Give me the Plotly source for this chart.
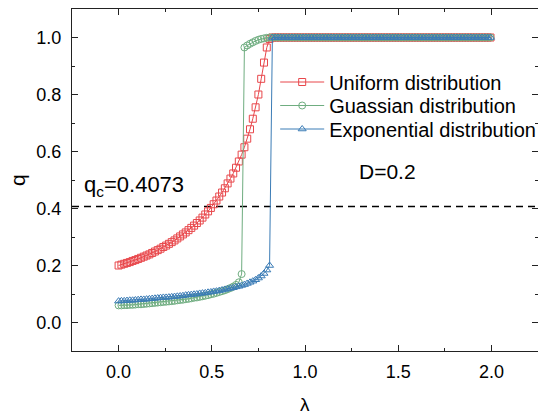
import plotly.graph_objects as go

# lambda grid (step 0.015)
lam = [0.0, 0.015, 0.03, 0.045, 0.06, 0.075, 0.09, 0.105, 0.12, 0.135,
       0.15, 0.165, 0.18, 0.195, 0.21, 0.225, 0.24, 0.255, 0.27, 0.285,
       0.3, 0.315, 0.33, 0.345, 0.36, 0.375, 0.39, 0.405, 0.42, 0.435,
       0.45, 0.465, 0.48, 0.495, 0.51, 0.525, 0.54, 0.555, 0.57, 0.585,
       0.6, 0.615, 0.63, 0.645, 0.66, 0.675, 0.69, 0.705, 0.72, 0.735,
       0.75, 0.765, 0.78, 0.795, 0.81, 0.825, 0.84, 0.855, 0.87, 0.885,
       0.9, 0.915, 0.93, 0.945, 0.96, 0.975, 0.99, 1.005, 1.02, 1.035,
       1.05, 1.065, 1.08, 1.095, 1.11, 1.125, 1.14, 1.155, 1.17, 1.185,
       1.2, 1.215, 1.23, 1.245, 1.26, 1.275, 1.29, 1.305, 1.32, 1.335,
       1.35, 1.365, 1.38, 1.395, 1.41, 1.425, 1.44, 1.455, 1.47, 1.485,
       1.5, 1.515, 1.53, 1.545, 1.56, 1.575, 1.59, 1.605, 1.62, 1.635,
       1.65, 1.665, 1.68, 1.695, 1.71, 1.725, 1.74, 1.755, 1.77, 1.785,
       1.8, 1.815, 1.83, 1.845, 1.86, 1.875, 1.89, 1.905, 1.92, 1.935,
       1.95, 1.965, 1.98, 1.995]

q_uniform = [0.200, 0.203, 0.206, 0.209, 0.212, 0.216, 0.219, 0.223, 0.227, 0.231,
             0.235, 0.239, 0.244, 0.249, 0.254, 0.259, 0.265, 0.270, 0.276, 0.282,
             0.288, 0.295, 0.302, 0.309, 0.316, 0.324, 0.332, 0.340, 0.349, 0.358,
             0.368, 0.379, 0.390, 0.402, 0.415, 0.428, 0.442, 0.456, 0.471, 0.488,
             0.505, 0.523, 0.543, 0.565, 0.589, 0.615, 0.645, 0.678, 0.715, 0.755,
             0.800, 0.855, 0.912, 0.965, 0.995, 1.0, 1.0, 1.0, 1.0, 1.0,
             1.0, 1.0, 1.0, 1.0, 1.0, 1.0, 1.0, 1.0, 1.0, 1.0,
             1.0, 1.0, 1.0, 1.0, 1.0, 1.0, 1.0, 1.0, 1.0, 1.0,
             1.0, 1.0, 1.0, 1.0, 1.0, 1.0, 1.0, 1.0, 1.0, 1.0,
             1.0, 1.0, 1.0, 1.0, 1.0, 1.0, 1.0, 1.0, 1.0, 1.0,
             1.0, 1.0, 1.0, 1.0, 1.0, 1.0, 1.0, 1.0, 1.0, 1.0,
             1.0, 1.0, 1.0, 1.0, 1.0, 1.0, 1.0, 1.0, 1.0, 1.0,
             1.0, 1.0, 1.0, 1.0, 1.0, 1.0, 1.0, 1.0, 1.0, 1.0,
             1.0, 1.0, 1.0, 1.0]

q_gauss = [0.060, 0.060, 0.061, 0.061, 0.062, 0.062, 0.063, 0.064, 0.064, 0.065,
           0.066, 0.067, 0.068, 0.069, 0.070, 0.071, 0.072, 0.073, 0.074, 0.075,
           0.076, 0.078, 0.079, 0.080, 0.082, 0.083, 0.085, 0.087, 0.088, 0.090,
           0.092, 0.094, 0.096, 0.099, 0.101, 0.104, 0.107, 0.110, 0.113, 0.117,
           0.121, 0.126, 0.132, 0.141, 0.170, 0.965, 0.972, 0.978, 0.983, 0.988,
           0.992, 0.995, 0.997, 0.999, 1.0, 1.0, 1.0, 1.0, 1.0, 1.0,
           1.0, 1.0, 1.0, 1.0, 1.0, 1.0, 1.0, 1.0, 1.0, 1.0,
           1.0, 1.0, 1.0, 1.0, 1.0, 1.0, 1.0, 1.0, 1.0, 1.0,
           1.0, 1.0, 1.0, 1.0, 1.0, 1.0, 1.0, 1.0, 1.0, 1.0,
           1.0, 1.0, 1.0, 1.0, 1.0, 1.0, 1.0, 1.0, 1.0, 1.0,
           1.0, 1.0, 1.0, 1.0, 1.0, 1.0, 1.0, 1.0, 1.0, 1.0,
           1.0, 1.0, 1.0, 1.0, 1.0, 1.0, 1.0, 1.0, 1.0, 1.0,
           1.0, 1.0, 1.0, 1.0, 1.0, 1.0, 1.0, 1.0, 1.0, 1.0,
           1.0, 1.0, 1.0, 1.0]

q_expo = [0.075, 0.076, 0.076, 0.077, 0.078, 0.078, 0.079, 0.080, 0.081, 0.081,
          0.082, 0.083, 0.084, 0.085, 0.086, 0.087, 0.088, 0.088, 0.089, 0.090,
          0.091, 0.092, 0.093, 0.094, 0.096, 0.097, 0.098, 0.099, 0.100, 0.102,
          0.103, 0.104, 0.106, 0.107, 0.109, 0.110, 0.112, 0.114, 0.116, 0.118,
          0.120, 0.122, 0.125, 0.127, 0.130, 0.133, 0.137, 0.141, 0.145, 0.150,
          0.156, 0.163, 0.172, 0.184, 0.200, 1.0, 1.0, 1.0, 1.0, 1.0,
          1.0, 1.0, 1.0, 1.0, 1.0, 1.0, 1.0, 1.0, 1.0, 1.0,
          1.0, 1.0, 1.0, 1.0, 1.0, 1.0, 1.0, 1.0, 1.0, 1.0,
          1.0, 1.0, 1.0, 1.0, 1.0, 1.0, 1.0, 1.0, 1.0, 1.0,
          1.0, 1.0, 1.0, 1.0, 1.0, 1.0, 1.0, 1.0, 1.0, 1.0,
          1.0, 1.0, 1.0, 1.0, 1.0, 1.0, 1.0, 1.0, 1.0, 1.0,
          1.0, 1.0, 1.0, 1.0, 1.0, 1.0, 1.0, 1.0, 1.0, 1.0,
          1.0, 1.0, 1.0, 1.0, 1.0, 1.0, 1.0, 1.0, 1.0, 1.0,
          1.0, 1.0, 1.0, 1.0]

series_names = ["Uniform distribution", "Guassian distribution", "Exponential distribution"]
q_critical = 0.4073
x_tickvals = [0.0, 0.5, 1.0, 1.5, 2.0]
x_ticktext = ["0.0", "0.5", "1.0", "1.5", "2.0"]
y_tickvals = [0.0, 0.2, 0.4, 0.6, 0.8, 1.0]
y_ticktext = ["0.0", "0.2", "0.4", "0.6", "0.8", "1.0"]

FONT = "Liberation Sans, Arial, sans-serif"
colors = ["#E8474B", "#6FAD80", "#3B7CB6"]
symbols = ["square-open", "circle-open", "triangle-up-open"]
legend_ids = ["legend", "legend2", "legend3"]

fig = go.Figure()

# dashed critical line
fig.add_trace(go.Scatter(
    x=[-0.25, 2.25], y=[q_critical, q_critical], mode="lines",
    line=dict(color="black", width=1.5, dash="7px,5px"),
    showlegend=False, hoverinfo="skip"))

for name, ys, c, s, lg in zip(series_names, [q_uniform, q_gauss, q_expo], colors, symbols, legend_ids):
    fig.add_trace(go.Scatter(
        x=lam, y=ys, mode="lines+markers", name=name, legend=lg,
        line=dict(color=c, width=1),
        marker=dict(symbol=s, size=7, color=c, line=dict(color=c, width=1)),
    ))

axis_common = dict(
    showline=True, linecolor="#222", linewidth=1.3, mirror="ticks",
    ticks="inside", ticklen=6, tickwidth=1.2, tickcolor="#222",
    showgrid=False, zeroline=False,
    tickfont=dict(family=FONT, size=18, color="black"),
)

fig.update_xaxes(range=[-0.25, 2.25], tickvals=x_tickvals, ticktext=x_ticktext,
                 minor=dict(ticks="inside", ticklen=3, tickwidth=1, tickcolor="#222", dtick=0.25, tick0=0),
                 ticklabelstandoff=4, **axis_common)
fig.update_yaxes(range=[-0.1, 1.1], tickvals=y_tickvals, ticktext=y_ticktext,
                 minor=dict(ticks="inside", ticklen=3, tickwidth=1, tickcolor="#222", dtick=0.1, tick0=0),
                 ticklabelstandoff=6, **axis_common)

fig.add_annotation(text="q<sub>c</sub>=0.4073", x=-0.197, y=0.478, xref="x", yref="y",
                   xanchor="left", yanchor="middle", showarrow=False,
                   font=dict(family=FONT, size=22, color="black"))
fig.add_annotation(text="D=0.2", x=1.28, y=0.53, xref="x", yref="y",
                   xanchor="left", yanchor="middle", showarrow=False,
                   font=dict(family=FONT, size=21, color="black"))
fig.add_annotation(text="q", x=(17 - 72) / 466.0, y=0.5, xref="paper", yref="paper",
                   xanchor="center", yanchor="middle",
                   showarrow=False, textangle=-90,
                   font=dict(family=FONT, size=21, color="black"))
fig.add_annotation(text="λ", x=1.0, y=(351 - 404) / 342.0, xref="x", yref="paper",
                   showarrow=False, xanchor="center", yanchor="middle",
                   font=dict(family=FONT, size=19, color="black"))

leg_common = dict(xanchor="left", yanchor="middle", bgcolor="rgba(0,0,0,0)", borderwidth=0,
                  font=dict(family=FONT, size=20, color="black"), itemwidth=44)
row_px = [82, 105.5, 129]
leg_x = 0.436
fig.update_layout(
    width=538, height=416,
    margin=dict(l=72, r=0, t=9, b=65, autoexpand=False),
    paper_bgcolor="white", plot_bgcolor="white",
    showlegend=True,
    legend=dict(x=leg_x, y=(351 - row_px[0]) / 342.0, **leg_common),
    legend2=dict(x=leg_x, y=(351 - row_px[1]) / 342.0, **leg_common),
    legend3=dict(x=leg_x, y=(351 - row_px[2]) / 342.0, **leg_common),
)

fig.write_html("out.html")
